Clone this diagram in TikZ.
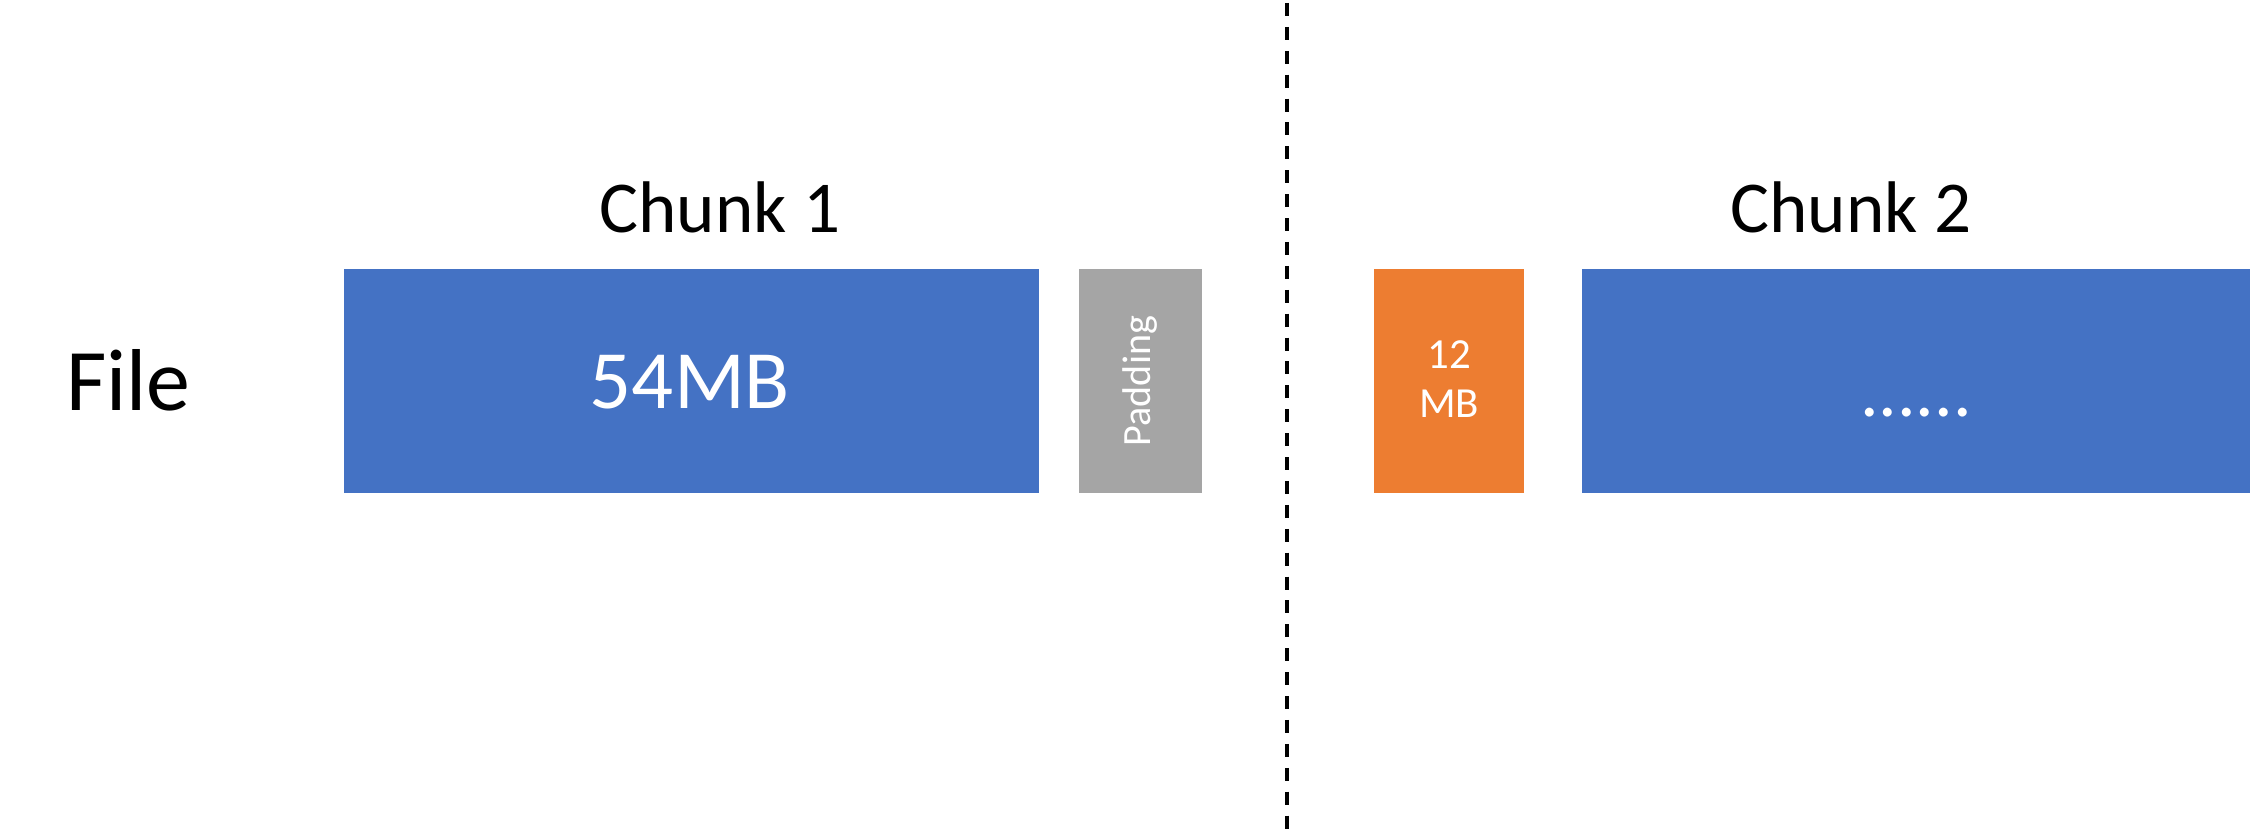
\documentclass[tikz,border=0pt]{standalone}
\usepackage{fontspec}
\setmainfont{Carlito}
\definecolor{fileblue}{HTML}{4472C4}
\definecolor{padgray}{HTML}{A5A5A5}
\definecolor{restorange}{HTML}{ED7D31}
\usetikzlibrary{positioning, calc}
\tikzset{
  block/.style={inner sep=0pt, outer sep=0pt, text=white, anchor=center}
}

\begin{document}
\begin{tikzpicture}
  \useasboundingbox (0, 0) rectangle (22.59, 8.29);

  % Row label
  \node[font=\fontsize{25}{30}\selectfont, anchor=base west] (file) at (0.54, 4.18) {File};

  % Chunk 1 blocks
  \node[block, fill=fileblue, minimum width=6.95cm, minimum height=2.24cm] (part1) at (6.915, 4.48) {};
  \node[font=\fontsize{23.6}{28}\selectfont, text=white, anchor=base] (size1) at (6.90, 4.20) {54MB};
  \node[block, fill=padgray, minimum width=1.23cm, minimum height=2.24cm] (pad) at (11.405, 4.48) {};
  \node[font=\fontsize{11.4}{13}\selectfont, text=white, rotate=90] (padtext) at (11.40, 4.48) {Padding};

  % Chunk 2 blocks
  \node[block, fill=restorange, minimum width=1.50cm, minimum height=2.24cm] (rest) at (14.49, 4.48) {};
  \node[font=\fontsize{12.2}{14}\selectfont, text=white, align=center] (size2) at (14.49, 4.50) {12\\MB};
  \node[block, fill=fileblue, minimum width=6.68cm, minimum height=2.24cm] (part2) at (19.16, 4.48) {};
  \node[font=\fontsize{21}{25}\selectfont, text=white, anchor=base] (more) at (19.16, 4.12) {......};

  % Chunk titles
  \node[font=\fontsize{20.8}{25}\selectfont, anchor=base] (chunk1) at (7.20, 5.96) {Chunk 1};
  \node[font=\fontsize{20.8}{25}\selectfont, anchor=base] (chunk2) at (18.51, 5.96) {Chunk 2};

  % Chunk boundary
  \coordinate (cuttop) at (12.87, 8.26);
  \coordinate (cutbot) at (12.87, 0);
  \draw[line width=0.94pt, dash pattern=on 3.7pt off 3.1pt] (cuttop) -- (cutbot);
\end{tikzpicture}
\end{document}
